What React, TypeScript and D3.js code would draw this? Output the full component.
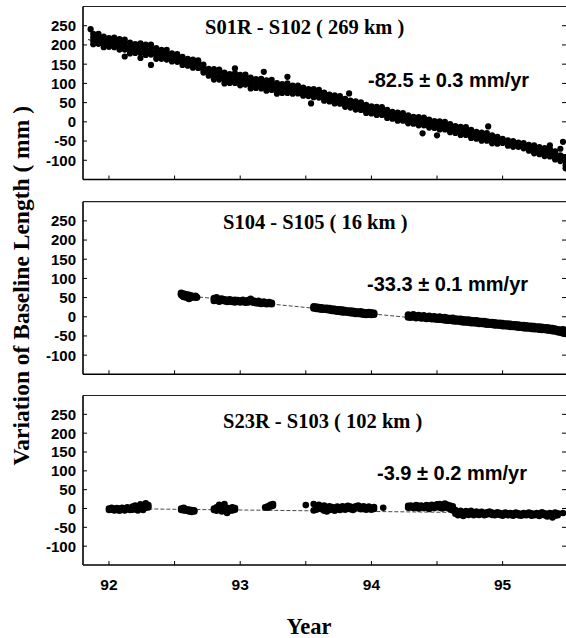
import React from "react";
import * as d3 from "d3";

// ---------- data ----------
const yearTicks = [92, 93, 94, 95];
const minorYearTicks = [92, 92.5, 93, 93.5, 94, 94.5, 95, 95.5];
const valueTicks = [-100, -50, 0, 50, 100, 150, 200, 250];

const panelTitles = ["S01R - S102 ( 269 km )", "S104 - S105 ( 16 km )", "S23R - S103 ( 102 km )"];
const panelRates = ["-82.5 ± 0.3 mm/yr", "-33.3 ± 0.1 mm/yr", "-3.9 ± 0.2 mm/yr"];

// rows: [decimal year, value(s) in mm ...]
const s01rRows: number[][] = [
  [91.86, 241],
  [91.88, 229, 220, 211, 202],
  [91.92, 221, 211, 203, 229],
  [91.96, 222, 212, 203, 194],
  [92.0, 213, 204, 195, 218],
  [92.04, 219, 211, 202, 194],
  [92.08, 215, 206, 197, 188],
  [92.12, 206, 196, 188, 214, 170],
  [92.16, 206, 196, 187, 178],
  [92.2, 197, 188, 179, 202],
  [92.24, 204, 196, 187, 179, 166],
  [92.28, 201, 192, 183, 174],
  [92.32, 193, 183, 175, 201, 148],
  [92.36, 192, 182, 173, 164],
  [92.4, 182, 173, 164, 187],
  [92.44, 187, 179, 170, 162],
  [92.48, 178, 171, 164, 157],
  [92.52, 171, 163, 156, 176],
  [92.56, 169, 161, 154, 148],
  [92.6, 161, 153, 146, 164],
  [92.64, 162, 155, 148, 141],
  [92.68, 155, 147, 140, 160],
  [92.72, 149, 141, 134, 128],
  [92.76, 135, 127, 120, 138],
  [92.8, 137, 128, 119, 110],
  [92.84, 128, 118, 110, 136],
  [92.88, 128, 118, 109, 100],
  [92.92, 119, 110, 101, 124],
  [92.96, 126, 118, 109, 101, 139],
  [93.0, 122, 113, 104, 95],
  [93.04, 115, 105, 97, 123],
  [93.08, 115, 105, 96, 87],
  [93.12, 106, 97, 88, 111],
  [93.16, 112, 104, 95, 87],
  [93.18, 130],
  [93.2, 108, 99, 90, 81],
  [93.24, 101, 91, 83, 109],
  [93.28, 101, 91, 82, 73],
  [93.32, 93, 84, 75, 98],
  [93.36, 100, 92, 83, 75, 117],
  [93.4, 94, 87, 80, 73],
  [93.44, 89, 81, 74, 94],
  [93.48, 89, 81, 74, 68],
  [93.52, 82, 74, 67, 85],
  [93.54, 48],
  [93.56, 85, 78, 71, 64],
  [93.6, 78, 70, 63, 83],
  [93.64, 76, 68, 61, 55],
  [93.68, 68, 60, 53, 71],
  [93.72, 69, 62, 55, 48],
  [93.76, 62, 54, 47, 67],
  [93.8, 60, 52, 45, 39],
  [93.83, 74],
  [93.84, 52, 44, 37, 55],
  [93.88, 53, 46, 39, 32],
  [93.92, 46, 38, 31, 51],
  [93.96, 44, 36, 29, 23],
  [94.0, 37, 29, 22, 40],
  [94.04, 39, 32, 25, 18],
  [94.08, 33, 25, 18, 38],
  [94.12, 31, 23, 16, 10],
  [94.16, 23, 15, 8, 26],
  [94.2, 24, 17, 10, 3],
  [94.24, 18, 10, 3, 23],
  [94.28, 17, 9, 2, -4],
  [94.32, 10, 2, -5, 13],
  [94.36, 12, 5, -2, -9],
  [94.39, -30],
  [94.4, 6, -2, -9, 11],
  [94.44, 6, -2, -9, -15],
  [94.48, -1, -9, -16, 2],
  [94.5, -35],
  [94.52, 1, -6, -13, -20],
  [94.56, -5, -13, -20, 0],
  [94.6, -6, -14, -21, -27],
  [94.64, -14, -22, -29, -11],
  [94.68, -13, -20, -27, -34],
  [94.72, -19, -27, -34, -14],
  [94.76, -21, -29, -36, -42],
  [94.8, -29, -37, -44, -26],
  [94.84, -28, -35, -42, -49],
  [94.88, -34, -42, -49, -29],
  [94.89, -12],
  [94.92, -35, -43, -50, -56],
  [94.96, -42, -50, -57, -39],
  [95.0, -44, -55],
  [95.04, -48, -56, -62],
  [95.08, -50, -58, -65],
  [95.12, -57, -65, -54],
  [95.16, -55, -62, -69],
  [95.2, -60, -68, -75],
  [95.24, -61, -69, -76, -82],
  [95.28, -69, -77, -84, -66],
  [95.32, -68, -75, -82, -89],
  [95.36, -75, -83, -90, -70, -61],
  [95.4, -77, -85, -92, -98],
  [95.44, -87, -95, -102, -70],
  [95.46, -52],
  [95.48, -92, -104, -113, -121],
];

const s104Rows: number[][] = [
  [92.55, 58, 62], [92.56, 55], [92.57, 60, 52], [92.58, 57], [92.59, 50, 58], [92.6, 55],
  [92.61, 47, 57], [92.62, 53], [92.63, 55, 50], [92.64, 52], [92.66, 54, 50], [92.67, 51],
  [92.8, 48, 42], [92.82, 50, 44], [92.84, 46, 40], [92.86, 47, 43], [92.88, 45, 41],
  [92.9, 44, 39], [92.92, 45, 40], [92.94, 43, 39], [92.96, 44, 38], [92.98, 43, 40],
  [93.0, 42, 38], [93.02, 44, 39], [93.04, 41, 37], [93.06, 43, 38], [93.08, 46, 40],
  [93.1, 42, 37], [93.12, 40, 36], [93.14, 41, 35], [93.16, 38, 34], [93.18, 39, 35],
  [93.2, 37, 33], [93.22, 38, 34], [93.24, 36, 33],
  [93.56, 27, 22], [93.58, 26, 21], [93.6, 25, 20], [93.62, 24, 19], [93.64, 23, 19],
  [93.66, 23, 18], [93.68, 22, 17], [93.7, 21, 16], [93.72, 20, 15], [93.74, 19, 14],
  [93.76, 19, 13], [93.78, 18, 12], [93.8, 17, 12], [93.82, 16, 11], [93.84, 16, 10],
  [93.86, 15, 9], [93.88, 14, 8], [93.9, 13, 8], [93.92, 14, 7], [93.94, 12, 6],
  [93.96, 11, 5], [93.98, 12, 6], [94.0, 11, 5], [94.02, 10, 6],
  [94.28, 5, -1], [94.3, 4, -2], [94.32, 6, 0], [94.34, 3, -3], [94.36, 4, -2],
  [94.38, 2, -4], [94.4, 3, -3], [94.42, 1, -5], [94.44, 2, -4], [94.46, 0, -6],
  [94.48, 1, -6], [94.5, -1, -7], [94.52, 0, -7], [94.54, -2, -8], [94.56, -1, -9],
  [94.58, -3, -10], [94.6, -4, -10], [94.62, -3, -11], [94.64, -5, -12], [94.66, -6, -12],
  [94.68, -6, -13], [94.7, -7, -14], [94.72, -8, -14], [94.74, -8, -15], [94.76, -9, -16],
  [94.78, -10, -16], [94.8, -10, -17], [94.82, -11, -18], [94.84, -12, -18], [94.86, -12, -19],
  [94.88, -13, -20], [94.9, -14, -20], [94.92, -14, -21], [94.94, -15, -22], [94.96, -16, -22],
  [94.98, -16, -23], [95.0, -17, -24], [95.02, -18, -24], [95.04, -18, -25], [95.06, -19, -26],
  [95.08, -20, -26], [95.1, -20, -27], [95.12, -21, -28], [95.14, -22, -28], [95.16, -22, -29],
  [95.18, -23, -30], [95.2, -24, -30], [95.22, -24, -31], [95.24, -25, -32], [95.26, -26, -32],
  [95.28, -26, -33], [95.3, -27, -34], [95.32, -28, -34], [95.34, -28, -35], [95.36, -29, -36],
  [95.38, -30, -37], [95.4, -31, -38], [95.42, -33, -40], [95.44, -34, -41], [95.46, -33, -43],
  [95.48, -35, -44],
];

const s23rRows: number[][] = [
  [92.0, 0, -4], [92.02, 2, -3], [92.04, -1, -5], [92.06, 1, -4], [92.08, 0, -6], [92.1, 2, -3],
  [92.12, -1, -5], [92.14, 3, -2], [92.16, 1, -4], [92.18, 5, -3], [92.2, 8, -2], [92.22, 4, -5],
  [92.24, 11, 0], [92.26, 7, -4], [92.28, 14, 2], [92.3, 9, 3],
  [92.55, 0, -4], [92.57, 2, -5], [92.59, -2, -6], [92.61, -3, -8], [92.63, -4, -9], [92.65, -5, -8],
  [92.8, 0, -4], [92.82, 3, -6], [92.84, 10, -2], [92.86, 5, -8], [92.88, 12, -3], [92.9, 2, -12],
  [92.92, 0, -6], [92.94, 3, -5], [92.96, 1, -3],
  [93.19, 3], [93.21, 6, 2], [93.23, 10, 5], [93.25, 12, 7],
  [93.5, 9],
  [93.56, 12, -5], [93.58, 5, -3], [93.6, 10, 0], [93.62, 6, -2], [93.64, 8, -6], [93.66, 3, -8],
  [93.68, 6, -4], [93.7, 4, -3], [93.72, 2, -6], [93.74, 5, -2], [93.76, 3, -4], [93.78, 6, -1],
  [93.8, 4, -3], [93.82, 7, 0], [93.84, 5, -2], [93.86, 3, -4], [93.88, 6, 0], [93.9, 8, 1],
  [93.92, 4, -2], [93.94, 6, -1], [93.96, 3, -3], [93.98, 5, -1], [94.0, 2, -3], [94.02, 4, -1],
  [94.09, 2],
  [94.28, 7, 2], [94.3, 8, 3], [94.32, 6, 1], [94.34, 9, 2], [94.36, 7, 0], [94.38, 8, 3],
  [94.4, 6, 1], [94.42, 9, 2], [94.44, 7, -1], [94.46, 10, 3], [94.48, 8, 1], [94.5, 11, 4],
  [94.52, 12, 2], [94.54, 9, 0], [94.56, 13, 3], [94.58, 10, 1], [94.6, 8, -2], [94.62, 6, -5],
  [94.64, -4, -14], [94.66, -8, -18], [94.68, -6, -16], [94.7, -10, -20], [94.72, -7, -15],
  [94.74, -9, -17], [94.76, -6, -14], [94.78, -10, -18], [94.8, -8, -15], [94.82, -11, -17],
  [94.84, -9, -14], [94.86, -12, -18], [94.88, -10, -16], [94.9, -8, -13], [94.92, -11, -17],
  [94.94, -13, -18], [94.96, -10, -15], [94.98, -12, -17], [95.0, -14, -19], [95.02, -11, -16],
  [95.04, -13, -18], [95.06, -12, -17], [95.08, -14, -19], [95.1, -11, -16], [95.12, -13, -18],
  [95.14, -15, -19], [95.16, -12, -17], [95.18, -14, -18], [95.2, -11, -16], [95.22, -13, -19],
  [95.24, -15, -18], [95.26, -12, -17], [95.28, -14, -20], [95.3, -10, -16], [95.32, -13, -18],
  [95.34, -15, -21], [95.36, -12, -17], [95.38, -14, -24], [95.4, -11, -19], [95.42, -13, -18],
  [95.46, -12],
];

// fitted trend lines: [year, mm]
const s01rFit: number[][] = [[91.84, 214], [95.49, -87]];
const s01rTail: number[][] = [[95.34, -80], [95.49, -112]];
const s104Fit: number[][] = [[92.55, 56], [95.49, -42]];
const s23rFit: number[][] = [[91.98, 0], [95.49, -13.7]];

// ---------- layout ----------
const W = 566;
const H = 638;
const LEFT = 83;
const RIGHT = 566;

const x = d3.scaleLinear().domain([91.802, 95.483]).range([LEFT, RIGHT]);

const layout = [
  { top: 6.5, bottom: 179.5, titleY: 34, rateY: 87, r: 3.1, dashed: false },
  { top: 201.7, bottom: 374.3, titleY: 229, rateY: 291, r: 3.5, dashed: true },
  { top: 395.5, bottom: 565, titleY: 428, rateY: 480, r: 3.3, dashed: true },
];
const titleX = [205, 223, 223];
const rateX = [368, 367, 377];

const panelRows = [s01rRows, s104Rows, s23rRows];
const panelFits = [[s01rFit, s01rTail], [s104Fit], [s23rFit]];

const serif = "'Liberation Serif', 'Times New Roman', serif";
const sans = "'Liberation Sans', Arial, sans-serif";

function flatten(rows: number[][]) {
  const pts: { t: number; v: number }[] = [];
  rows.forEach((r) => {
    for (let i = 1; i < r.length; i++) pts.push({ t: r[0], v: r[i] });
  });
  return pts;
}

function Panel({ idx }: { idx: number }) {
  const L = layout[idx];
  const y = d3.scaleLinear().domain([-150, 300]).range([L.bottom, L.top]);
  const pts = flatten(panelRows[idx]);
  const line = d3
    .line<number[]>()
    .x((d) => x(d[0]))
    .y((d) => y(d[1]));
  const clipId = `clip-${idx}`;
  return (
    <g>
      <defs>
        <clipPath id={clipId}>
          <rect x={LEFT} y={L.top} width={RIGHT - LEFT} height={L.bottom - L.top} />
        </clipPath>
      </defs>
      <line x1={LEFT} x2={RIGHT} y1={L.top} y2={L.top} stroke="#222" strokeWidth={1.2} />
      <line x1={LEFT} x2={LEFT} y1={L.top} y2={L.bottom} stroke="#000" strokeWidth={1.6} />
      <line x1={LEFT} x2={RIGHT} y1={L.bottom} y2={L.bottom} stroke="#000" strokeWidth={1.6} />
      {valueTicks.map((v) => (
        <g key={v}>
          <line x1={LEFT} x2={LEFT + 4} y1={y(v)} y2={y(v)} stroke="#000" strokeWidth={1} />
          <line x1={RIGHT - 4} x2={RIGHT} y1={y(v)} y2={y(v)} stroke="#000" strokeWidth={1} />
          <text
            x={76}
            y={y(v)}
            dy="0.36em"
            textAnchor="end"
            fontFamily={sans}
            fontWeight="bold"
            fontSize={15}
            fill="#000"
          >
            {v}
          </text>
        </g>
      ))}
      {minorYearTicks.map((t) => (
        <line key={t} x1={x(t)} x2={x(t)} y1={L.bottom} y2={L.bottom - 4} stroke="#000" strokeWidth={1} />
      ))}
      <g clipPath={`url(#${clipId})`}>
        {panelFits[idx].map((f, k) => (
          <path
            key={k}
            d={line(f) || ""}
            fill="none"
            stroke={L.dashed ? "#333" : "#000"}
            strokeWidth={0.9}
            strokeDasharray={L.dashed ? "4,2" : undefined}
          />
        ))}
        {pts.map((p, i) => (
          <circle key={i} cx={x(p.t)} cy={y(p.v)} r={L.r} fill="#000" />
        ))}
      </g>
      <text x={titleX[idx]} y={L.titleY} fontFamily={serif} fontWeight="bold" fontSize={20.5} fill="#000">
        {panelTitles[idx]}
      </text>
      <text x={rateX[idx]} y={L.rateY} fontFamily={sans} fontWeight="bold" fontSize={20} fill="#000">
        {panelRates[idx]}
      </text>
    </g>
  );
}

export default function App() {
  const last = layout[2];
  return (
    <svg
      width={W}
      height={H}
      style={{ position: "absolute", left: 0, top: 0, background: "#fff" }}
    >
      <rect x={0} y={0} width={W} height={H} fill="#fff" />
      {[0, 1, 2].map((i) => (
        <Panel key={i} idx={i} />
      ))}
      {yearTicks.map((t) => (
        <text
          key={t}
          x={x(t)}
          y={590}
          textAnchor="middle"
          fontFamily={sans}
          fontWeight="bold"
          fontSize={15.5}
          fill="#000"
        >
          {t}
        </text>
      ))}
      <text x={309} y={634} textAnchor="middle" fontFamily={serif} fontWeight="bold" fontSize={22.5} fill="#000">
        Year
      </text>
      <text
        transform={`translate(29, ${(layout[0].top + last.bottom) / 2}) rotate(-90)`}
        textAnchor="middle"
        fontFamily={serif}
        fontWeight="bold"
        fontSize={23.5}
        fill="#000"
      >
        Variation of Baseline Length ( mm )
      </text>
    </svg>
  );
}
